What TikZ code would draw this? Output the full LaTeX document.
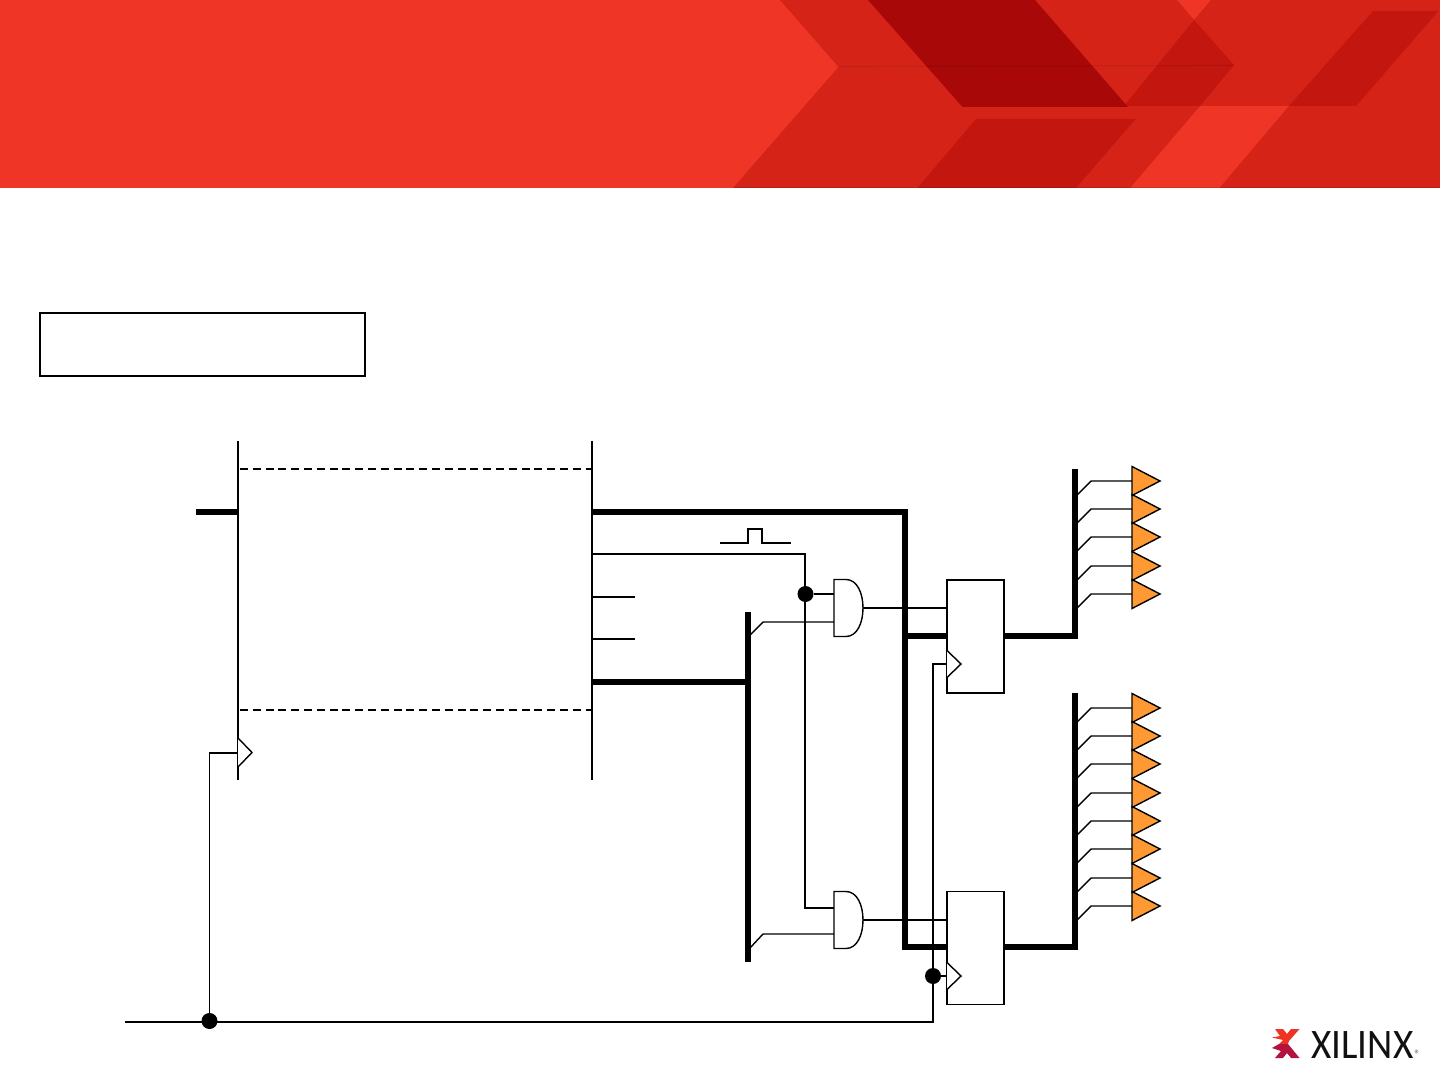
\documentclass[tikz,border=0pt]{standalone}
\usepackage{fontspec}
\usepackage{tikz}
\usetikzlibrary{calc,positioning}
\newfontfamily\logofont[FakeStretch=.93]{Carlito}
\definecolor{bannerbase}{HTML}{EF3525}
\definecolor{bannermid}{HTML}{D62318}
\definecolor{bannerdark}{HTML}{C2160F}
\definecolor{bannerdeep}{HTML}{A80808}
\definecolor{padorange}{HTML}{FF9933}
\definecolor{logored}{HTML}{EE3524}
\definecolor{logocrimson}{HTML}{B5123E}
\definecolor{logoink}{HTML}{111111}
\tikzset{
  wire/.style={line width=.7pt, line join=miter},
  bus/.style={line width=2.9pt, line cap=butt, line join=miter},
  edgeline/.style={line width=1pt},
  dashline/.style={line width=.7pt, dash pattern=on 4pt off 2.4pt},
  joint/.style={circle, fill=black, inner sep=0pt, minimum size=8pt},
  regbox/.style={draw, line width=.7pt, fill=white, inner sep=0pt, minimum width=28.5pt, minimum height=56.5pt},
  padtri/.style={draw, line width=.7pt, fill=padorange, line join=miter},
  clktri/.style={draw, line width=.7pt, fill=white}
}
\begin{document}
\begin{tikzpicture}[x=.5pt,y=-.5pt]
\useasboundingbox (0,0) rectangle (1440,1080);
\fill[white] (0,0) rectangle (1440,1080);
% banner
\fill[bannerbase] (0,0) rectangle (1440,188);
\fill[bannermid] (780,0) -- (838.5,67) -- (733,188) -- (1130,188) -- (1200,106) -- (1289,106) -- (1219.5,188) -- (1440,188) -- (1440,0) -- (1211,0) -- (1194,20) -- (1177,0) -- cycle;
\fill[bannerdark] (1194,20) -- (1234,65) -- (1200,106) -- (1124,106) -- cycle;
\fill[bannerdark] (1373,11) -- (1438.5,11) -- (1356,106) -- (1289,106) -- cycle;
\fill[bannerdark] (976,119) -- (1135.5,119) -- (1076,188) -- (917.5,188) -- cycle;
\fill[bannerdeep] (868,0) -- (1035,0) -- (1128,107) -- (962.5,107) -- cycle;
\draw[black, opacity=.08, line width=.6pt] (838.5,66.5) -- (1234,65.5);
\draw[black, opacity=.1, line width=.5pt] (733,187.3) -- (1440,187.3);

\node[draw, line width=.6pt, inner sep=0pt, minimum width=162.5pt, minimum height=31.5pt] (notebox) at (202.5,344.5) {};

% fifo
\coordinate (fifoLtop) at (238,441);
\coordinate (fifoLbot) at (238,780);
\coordinate (fifoRtop) at (592,441);
\coordinate (fifoRbot) at (592,780);
\draw[edgeline] (fifoLtop) -- (fifoLbot);
\draw[line width=.75pt] (fifoRtop) -- (fifoRbot);
\draw[dashline] (240,469) -- (592,469);
\draw[dashline] (240,710) -- (592,710);
\coordinate (dataIn) at (196,512);
\coordinate (dataOut) at (592,512);
\coordinate (validOut) at (592,554);
\coordinate (flagA) at (592,597);
\coordinate (flagB) at (592,639);
\coordinate (sizeOut) at (592,682);
\coordinate (fifoClk) at (238,753);
\draw[bus] (dataIn) -- (238,512);
\draw[clktri] (238,738) -- (252,752.5) -- (238,767);
\draw[wire] (flagA) -- (635,597);
\draw[wire] (flagB) -- (635,639);

% registers
\node[regbox] (regA) at (975.5,636.5) {};
\node[regbox] (regB) at (975.5,948) {};
\foreach \reg/\yy in {regA/664, regB/976}
  \draw[clktri] (947,\yy-13.5) -- (961,\yy) -- (947,\yy+13.5);

% gates
\foreach \gate/\yy/\ya in {gateA/608/594, gateB/920/908}{
  \draw[wire] (834,\yy-28.5) -- (846,\yy-28.5) .. controls (857,\yy-28.5) and (863,\yy-15) .. (863,\yy)
    .. controls (863,\yy+15) and (857,\yy+28.5) .. (846,\yy+28.5) -- (834,\yy+28.5) -- cycle;
  \coordinate (\gate) at (863,\yy);
  \coordinate (\gate-a) at (834,\ya);
  \coordinate (\gate-b) at (834,\yy+14);
}

% buses
\coordinate (splitBus) at (905,636);
\coordinate (sizeTop) at (748,612);
\coordinate (sizeBot) at (748,962);
\coordinate (padTopA) at (1075,469);
\coordinate (padTopB) at (1075,693);
\draw[bus] (dataOut) -| (905,947) -- (regB.west |- 0,947);
\draw[bus] (splitBus) -- (regA.west |- splitBus);
\draw[bus] (regA.east |- splitBus) -| (padTopA);
\draw[bus] (regB.east |- 0,947) -| (padTopB);
\draw[bus] (sizeOut) -- (748,682);
\draw[bus] (sizeTop) -- (sizeBot);

% control
\node[joint] (jointPulse) at (805.5,594) {};
\node[joint] (jointClk) at (933,976) {};
\node[joint] (jointMain) at (209.5,1021) {};
\coordinate (clkIn) at (125,1022);
\draw[wire] (validOut) -| (805,908) -- (gateB-a);
\draw[wire] (jointPulse) -- (gateA-a);
\draw[wire] (720,543) -- (748,543) -- (748,529) -- (762,529) -- (762,543) -- (791,543);
\draw[wire] (gateA) -- (gateA -| regA.west);
\draw[wire] (gateB) -- (gateB -| regB.west);
\draw[wire] (750,635) -- (763,622) -- (gateA-b);
\draw[wire] (750,948) -- (763,934) -- (gateB-b);
\draw[wire] (clkIn) -- (933,1022) -- (933,664) -- (947,664);
\draw[wire] (jointClk) -- (947,976);
\draw[wire] (jointMain) -- (209.5,753) -- (fifoClk);

% pads
\foreach \yy in {481,509,537,566,594}{
  \draw[wire] (1077,\yy+14) -- (1091,\yy) -- (1132,\yy);
  \draw[padtri] (1132,\yy-14.5) -- (1160,\yy) -- (1132,\yy+14.5) -- cycle;
}
\foreach \yy in {708,736,764,793,821,849,878,906}{
  \draw[wire] (1077,\yy+14) -- (1091,\yy) -- (1132,\yy);
  \draw[padtri] (1132,\yy-14.5) -- (1160,\yy) -- (1132,\yy+14.5) -- cycle;
}

% logo
\fill[logored] (1275,1029) -- (1283,1029) -- (1287,1034) -- (1291,1029) -- (1299.5,1029) -- (1289,1041) -- (1288,1044) -- (1279,1044) -- (1283,1040) -- (1272,1037.5) -- (1280,1036) -- cycle;
\fill[logocrimson] (1272,1048) -- (1279,1044) -- (1288,1044) -- (1299.5,1058) -- (1291,1058) -- (1287,1053) -- (1283,1058) -- (1275,1058) -- (1281,1051) -- cycle;
\node[inner sep=0pt, anchor=base west, text=logoink, font=\logofont\fontsize{21}{21}\selectfont] (logotext) at (1311,1058) {XILINX};
\node[inner sep=0pt, text=logoink!70, font=\logofont\fontsize{6}{6}\selectfont, right=.3pt of logotext.base east, anchor=base west] (logomark) {®};
\end{tikzpicture}
\end{document}
